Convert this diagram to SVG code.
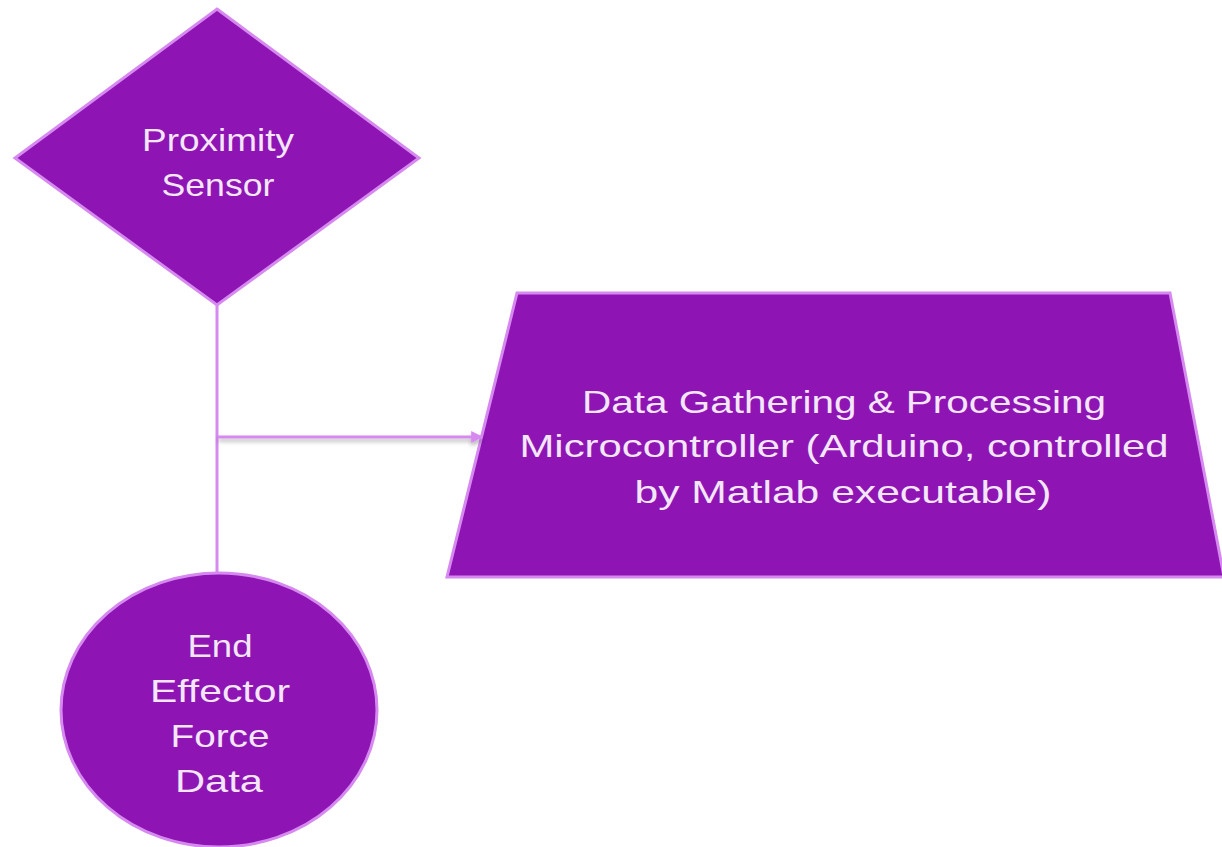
<svg xmlns="http://www.w3.org/2000/svg" width="1222" height="847" viewBox="0 0 1222 847">
<style>
.node{fill:#8E14B4;stroke:#D68AF0;stroke-width:3}
.lbl{font-family:"Liberation Sans",Arial,sans-serif;font-size:32px;fill:#F3E6F8;text-anchor:middle}
.conn{stroke:#D68AF0;stroke-width:3;fill:none}
</style>
<defs>
<marker id="arr" viewBox="0 0 10 10" refX="9" refY="5" markerWidth="4.5" markerHeight="4" orient="auto" markerUnits="strokeWidth">
<path d="M0,0 L10,5 L0,10 z" fill="#D68AF0"/>
</marker>
<filter id="sh" filterUnits="userSpaceOnUse" x="200" y="420" width="300" height="40">
<feDropShadow dx="0" dy="3" stdDeviation="2" flood-color="#000" flood-opacity="0.3"/>
</filter>
</defs>
<rect width="1222" height="847" fill="#FFFFFF"/>
<g id="proximity-sensor">
<polygon class="node" points="217,9 419,158 217,305 15,158"/>
<text class="lbl" x="218" y="151" textLength="152" lengthAdjust="spacingAndGlyphs">Proximity</text>
<text class="lbl" x="218" y="196" textLength="113" lengthAdjust="spacingAndGlyphs">Sensor</text>
</g>
<g id="data-gathering">
<polygon class="node" points="517,293 1170,293 1224,577 447,577"/>
<text class="lbl" x="844" y="413" textLength="524" lengthAdjust="spacingAndGlyphs">Data Gathering &amp; Processing</text>
<text class="lbl" x="844" y="457" textLength="649" lengthAdjust="spacingAndGlyphs">Microcontroller (Arduino, controlled</text>
<text class="lbl" x="843" y="503" textLength="417" lengthAdjust="spacingAndGlyphs">by Matlab executable)</text>
</g>
<g id="end-effector">
<ellipse class="node" cx="219" cy="710" rx="158" ry="137"/>
<text class="lbl" x="220" y="657" textLength="65" lengthAdjust="spacingAndGlyphs">End</text>
<text class="lbl" x="220" y="702" textLength="140" lengthAdjust="spacingAndGlyphs">Effector</text>
<text class="lbl" x="220" y="747" textLength="99" lengthAdjust="spacingAndGlyphs">Force</text>
<text class="lbl" x="219" y="792" textLength="88" lengthAdjust="spacingAndGlyphs">Data</text>
</g>
<g id="connectors">
<line class="conn" x1="217" y1="305" x2="217" y2="574"/>
<line class="conn" x1="218" y1="437" x2="482" y2="437" marker-end="url(#arr)" filter="url(#sh)"/>
</g>
</svg>
